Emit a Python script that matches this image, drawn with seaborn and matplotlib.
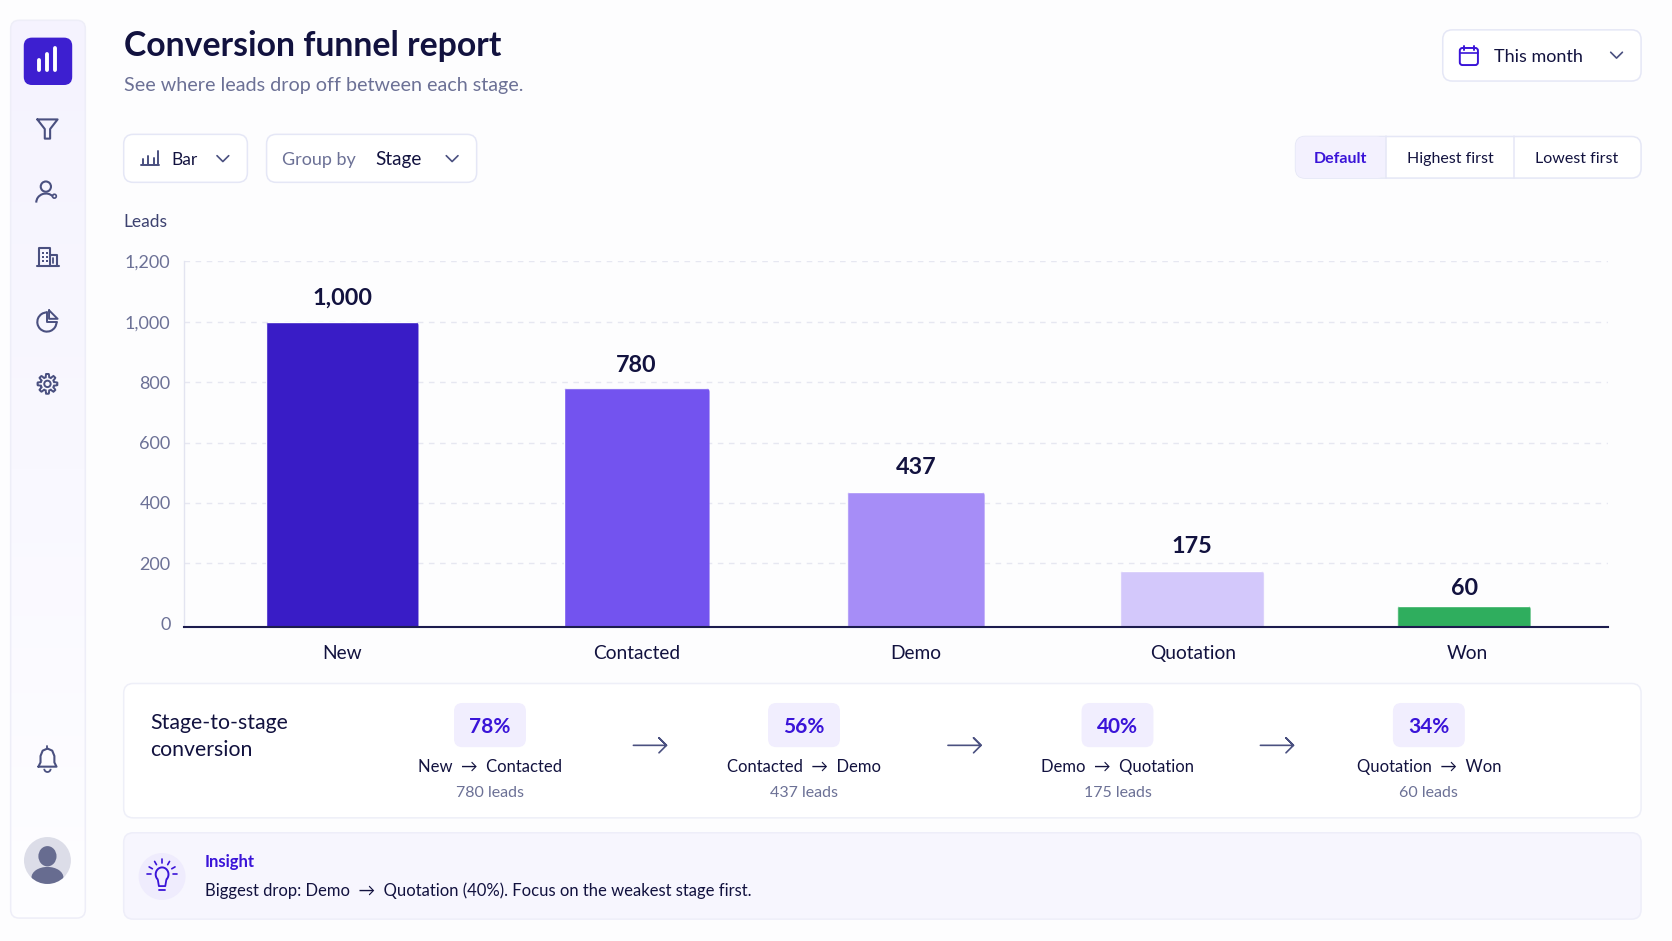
import numpy as np
import pandas as pd
import matplotlib
matplotlib.use("Agg")
import matplotlib.pyplot as plt
import seaborn as sns
from matplotlib.patches import FancyBboxPatch, Circle, Ellipse, Arc, Polygon, Rectangle
from matplotlib.transforms import IdentityTransform

stages = ["New", "Contacted", "Demo", "Quotation", "Won"]
leads = [1000, 780, 437, 175, 60]
bar_colors = ["#391cc6", "#7353ef", "#a68df7", "#d3c8fb", "#2fae5e"]
y_ticks = [0, 200, 400, 600, 800, 1000, 1200]

conv_pct = ["78%", "56%", "40%", "34%"]
conv_from = ["New", "Contacted", "Demo", "Quotation"]
conv_to = ["Contacted", "Demo", "Quotation", "Won"]
conv_leads = [780, 437, 175, 60]

# layout, in pixels of the 1568 wide working canvas
bar_centers = [321, 597, 859, 1118, 1373]
bar_widths = [143, 137, 129, 135, 125]
label_centers = [321, 597, 859, 1119, 1376]
value_pads = [9, 9, 10, 10, 5]
W, H = 1568, 882.5
Y_LOW = -10.6

INK = "#12123f"
MUTED = "#6c7196"
ICON = "#4a5080"
EDGE = "#e5e7f6"
VIOLET = "#3a14d8"
PILL = "#f1eefe"

sns.set_theme(style="white")
plt.rcParams["font.family"] = ["Lato", "DejaVu Sans"]

fig = plt.figure(figsize=(16.72, 9.41), dpi=100, facecolor="#fdfdfe")
ui = fig.add_axes([0, 0, 1, 1], zorder=0)
ui.set_xlim(0, W)
ui.set_ylim(H, 0)
ui.axis("off")


def box(x0, y0, x1, y1, fc="white", ec=EDGE, r=8, lw=1.1, z=1):
    p = FancyBboxPatch((x0, y0), x1 - x0, y1 - y0, boxstyle=f"round,pad=0,rounding_size={r}",
                       fc=fc, ec=ec, lw=lw, zorder=z)
    ui.add_patch(p)
    return p


def label(x, y, s, size=12.5, color=INK, ha="left", weight="normal"):
    ui.text(x, y + 1.5, s, fontsize=size, color=color, ha=ha, va="center", fontweight=weight, zorder=5)


def line(xs, ys, color=ICON, lw=1.5, z=4):
    ui.plot(xs, ys, color=color, lw=lw, solid_capstyle="round", solid_joinstyle="round", zorder=z)


def chevron(x, y):
    line([x - 5.5, x, x + 5.5], [y - 3, y + 2.5, y - 3], lw=1.2)


def arrow(x0, x1, y, head=7, lw=1.2):
    line([x0, x1, x1 - head, x1, x1 - head], [y, y, y - head, y, y + head], lw=lw)


# sidebar with a soft lavender fade from the top
side = box(10, 19, 80, 861, fc="none", ec="#eeeef8", r=8, z=2)
fade = np.linspace(0, 1, 256).reshape(-1, 1)
cmap = matplotlib.colors.LinearSegmentedColormap.from_list("side", ["#f5f3fe", "#f9f8ff", "#fefeff"])
im = ui.imshow(fade, extent=(10, 80, 861, 19), cmap=cmap, aspect="auto", zorder=1)
im.set_clip_path(side)
ui.set_xlim(0, W)
ui.set_ylim(H, 0)

box(23, 36, 67, 79, fc="#3d1fd0", ec="#3d1fd0", r=7, z=3)
for x, top in zip([37, 44.5, 52], [56, 51, 45]):
    line([x, x], [top, 66], color="white", lw=2.8, z=4)

# funnel
line([35, 54, 47, 47, 42, 42, 35], [112, 112, 121, 130, 130, 121, 112])
# person
ui.add_patch(Circle((43, 175), 4.8, fc="none", ec=ICON, lw=1.5, zorder=4))
ui.add_patch(Arc((43, 190), 18, 17, theta1=180, theta2=320, ec=ICON, lw=1.5, zorder=4))
ui.add_patch(Circle((51, 184), 1.8, fc="none", ec=ICON, lw=1.2, zorder=4))
# building
line([37, 37, 47, 47], [249, 233, 233, 249])
line([47, 53, 53], [239, 239, 249])
line([35, 55], [249, 249])
for wx in [40, 44]:
    for wy in [237, 241, 245]:
        ui.add_patch(Rectangle((wx - 1, wy - 1), 2, 2, fc=ICON, ec="none", zorder=4))
line([50, 50], [242, 247], lw=1.3)
# pie
ui.add_patch(Arc((44, 302), 18, 18, theta1=0, theta2=270, ec=ICON, lw=1.5, zorder=4))
line([44, 44, 53], [293, 302, 302], lw=1.4)
line([46, 46, 54, 46], [291, 299, 299, 291], lw=1.4)
# gear
t = np.linspace(0, 2 * np.pi, 200)
rg = 7.8 + 1.5 * np.clip(2.2 * np.cos(8 * t), -1, 1)
ui.add_patch(Polygon(np.c_[44.5 + rg * np.cos(t), 360 + rg * np.sin(t)], fc="none", ec=ICON, lw=1.4, zorder=4))
ui.add_patch(Circle((44.5, 360), 3, fc="none", ec=ICON, lw=1.4, zorder=4))
# bell
bx = np.array([36, 38, 38, 40, 44.5, 49, 51, 51, 53, 36])
by = np.array([719, 715, 709, 704, 702, 704, 709, 715, 719, 719])
line(bx, by)
line([44.5, 44.5], [700, 702], lw=1.3)
ui.add_patch(Arc((44.5, 721), 6, 6, theta1=0, theta2=180, ec=ICON, lw=1.3, zorder=4))
# avatar
face = Circle((44.5, 807), 22, fc="#dcdde8", ec="none", zorder=3)
ui.add_patch(face)
ui.add_patch(Ellipse((44.5, 803), 17, 19, fc="#676c90", ec="none", zorder=4))
body = Ellipse((44.5, 823), 30, 20, fc="#676c90", ec="none", zorder=4)
ui.add_patch(body)
body.set_clip_path(face)

# header
label(116, 41.5, "Conversion funnel report", size=24.3, weight="bold")
label(116, 79, "See where leads drop off between each stage.", size=14.2, color=MUTED)

# top right date picker
box(1353, 28, 1539, 76, r=9)
ui.add_patch(FancyBboxPatch((1369, 45), 17, 16, boxstyle="round,pad=0,rounding_size=2.5", fc="none", ec=VIOLET, lw=1.4, zorder=4))
line([1369, 1386], [50, 50], color=VIOLET, lw=1.2)
line([1373, 1373], [43, 47], color=VIOLET, lw=1.4)
line([1382, 1382], [43, 47], color=VIOLET, lw=1.4)
label(1401, 52, "This month", size=13)
chevron(1516, 52)

# dropdowns
box(116, 126, 232, 171, r=9)
for x, top in zip([134, 139, 144, 148], [149, 146, 148, 142]):
    line([x, x], [top, 154], lw=1.4)
line([132, 149], [155, 155], lw=1.4)
label(161, 148.5, "Bar", size=12.5)
chevron(209, 149)

box(250, 126, 447, 171, r=9)
label(264, 148.5, "Group by", size=13, color=MUTED)
label(352, 148.5, "Stage", size=13.6)
chevron(424, 149)

# sort toggle
box(1215, 128, 1539, 167, r=9)
left = FancyBboxPatch((1215, 128), 85, 39, boxstyle="round,pad=0,rounding_size=9", fc="#f3f1fe", ec="none", zorder=2)
ui.add_patch(left)
ui.add_patch(Rectangle((1285, 128.6), 15, 37.8, fc="#f3f1fe", ec="none", zorder=2))
line([1300, 1300], [128, 167], color=EDGE, lw=1.1)
line([1420, 1420], [128, 167], color=EDGE, lw=1.1)
label(1257, 147.5, "Default", size=11.5, color=VIOLET, ha="center", weight="bold")
label(1360, 147.5, "Highest first", size=11.5, ha="center")
label(1479, 147.5, "Lowest first", size=11.5, ha="center")

label(116, 207, "Leads", size=12.5, color="#3d4270")

# chart
ax = fig.add_axes([173 / W, 1 - 588 / H, (1508 - 173) / W, (588 - 245) / H], zorder=2)
ax.patch.set_alpha(0)
df = pd.DataFrame({"stage": stages, "leads": leads})
sns.barplot(data=df, x="stage", y="leads", hue="stage", palette=bar_colors, legend=False,
            saturation=1, ax=ax, zorder=3)
ax.set_xlim(173, 1508)
ax.set_ylim(Y_LOW, 1200)
ax.set_xticks(label_centers, stages)
ax.set_yticks(y_ticks, [f"{v:,}" for v in y_ticks])
ax.set_xlabel("")
ax.set_ylabel("")
ax.tick_params(axis="x", length=0, pad=13, labelsize=13.8, labelcolor=INK)
ax.tick_params(axis="y", length=0, pad=10, labelsize=13, labelcolor=MUTED)
ax.grid(axis="y", color="#e6e7f1", lw=1, dashes=(4, 4), zorder=0)
ax.set_axisbelow(True)
ax.yaxis.get_gridlines()[0].set_visible(False)
for side_name in ["top", "right"]:
    ax.spines[side_name].set_visible(False)
ax.spines["left"].set_color("#e3e4f0")
ax.spines["left"].set_linewidth(1)
ax.spines["bottom"].set_color("#1c1c4e")
ax.spines["bottom"].set_linewidth(1.5)
ax.spines["bottom"].set_zorder(6)

fig.canvas.draw()
for bar, c, w, v, pad in zip(ax.patches, bar_centers, bar_widths, leads, value_pads):
    bar.set_x(c - w / 2)
    bar.set_width(w)
    # run the bar down to the baseline, which sits a little under zero
    bar.set_y(Y_LOW)
    bar.set_height(v - Y_LOW)
    bb = bar.get_window_extent()
    clip = FancyBboxPatch((bb.x0, bb.y0 - 20), bb.width, bb.height + 20,
                          boxstyle="round,pad=0,rounding_size=4", transform=IdentityTransform())
    bar.set_clip_path(clip)
    ax.annotate(f"{v:,}", (c, v), xytext=(0, pad), textcoords="offset points", ha="center", va="bottom",
                fontsize=16.8, fontweight="bold", color=INK)

# conversion strip
box(116, 641, 1539, 767, r=9, ec="#eeeff8")
label(141, 677, "Stage-to-stage", size=15.3)
label(141, 702, "conversion", size=15.3)
conv_x = [459.5, 754, 1048, 1340]
for x, pct, a, b, n in zip(conv_x, conv_pct, conv_from, conv_to, conv_leads):
    box(x - 33, 660, x + 33, 700, fc=PILL, ec=PILL, r=7)
    label(x, 680, pct, size=15, color=VIOLET, ha="center", weight="bold")
    label(x, 718, f"{a}  \u2192  {b}", size=12, ha="center")
    label(x, 742, f"{n} leads", size=11.5, color=MUTED, ha="center")
for x0 in [594, 889, 1182]:
    arrow(x0, x0 + 31, 699)

# insight strip
box(116, 781, 1539, 862, fc="#f7f6fe", ec="#eeeef9", r=9)
ui.add_patch(Circle((152, 822), 22, fc="#efecfd", ec="none", zorder=3))
ui.add_patch(Arc((152, 820), 12, 13, theta1=130, theta2=50, ec=VIOLET, lw=1.4, zorder=4))
line([148, 149, 155, 156], [825, 831, 831, 825], color=VIOLET, lw=1.3)
line([149.5, 154.5], [834.5, 834.5], color=VIOLET, lw=1.3)
for a in [-150, -120, -90, -60, -30, 180, 0]:
    ca, sa = np.cos(np.radians(a)), np.sin(np.radians(a))
    line([152 + 10.5 * ca, 152 + 14 * ca], [820 + 10.5 * sa, 820 + 14 * sa], color=VIOLET, lw=1.2)
label(192, 806.5, "Insight", size=12, color=VIOLET, weight="bold")
label(192, 834, "Biggest drop: Demo  \u2192  Quotation (40%). Focus on the weakest stage first.", size=12)

fig.savefig("out.png", dpi=100, facecolor=fig.get_facecolor())
